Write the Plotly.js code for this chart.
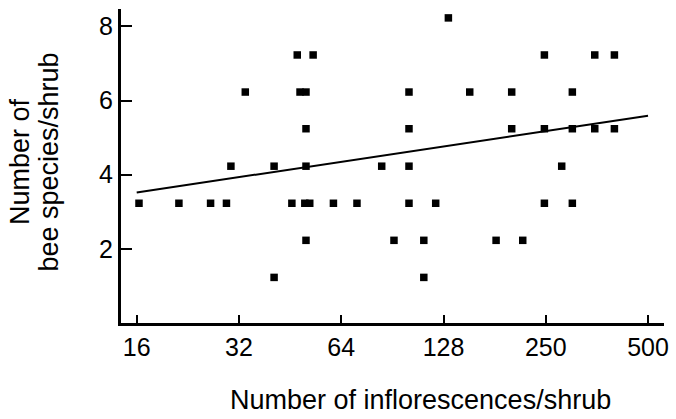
<!DOCTYPE html>
<html>
<head>
<meta charset="utf-8">
<script src="https://cdn.plot.ly/plotly-3.0.1.min.js"></script>
<style>html,body{margin:0;padding:0;background:#fff;}#chart{width:676px;height:419px;}</style>
</head>
<body>
<div id="chart"></div>
<script>
// Inflorescences per shrub (x) and bee species per shrub (y)
const inflorescences = [16.25, 21.3, 26.4, 29.4, 30.3, 33.4, 40.6, 40.6, 45.8, 47.5,
  52.9, 48.4, 50.4, 50.4, 50.4, 50.0, 51.7, 60.7, 71.2, 50.4,
  84.2, 91.5, 101.3, 101.3, 101.3, 101.3, 112, 112, 121.4, 132.3,
  152.9, 203.2, 203.2, 182.8, 219, 253.6, 253.6, 253.6, 285.2, 306.5,
  306.5, 306.5, 356.8, 356.8, 407.6, 407.6];
const beeSpecies = [3.23, 3.23, 3.23, 3.23, 4.23, 6.23, 4.23, 1.23, 3.23, 7.23,
  7.23, 6.23, 6.23, 5.24, 4.23, 3.23, 3.23, 3.23, 3.23, 2.23,
  4.23, 2.23, 6.23, 5.24, 4.23, 3.23, 2.23, 1.23, 3.23, 8.23,
  6.23, 6.23, 5.24, 2.23, 2.23, 7.23, 5.24, 3.23, 4.23, 6.23,
  5.24, 3.23, 7.23, 5.24, 7.23, 5.24];
// Fitted trend line
const trendX = [16, 512];
const trendY = [3.52, 5.59];
// Axis ticks and titles
const xTickVals = [16, 32, 64, 128, 256, 512];
const xTickText = ['16', '32', '64', '128', '250', '500'];
const yTickVals = [2, 4, 6, 8];
const xTitle = 'Number of inflorescences/shrub';
const yTitleLines = ['Number of', 'bee species/shrub'];

const font = 'Liberation Sans, Arial, sans-serif';
const titleFont = {family: font, size: 27, color: '#000'};

const traces = [
  {
    x: trendX, y: trendY, type: 'scatter', mode: 'lines',
    line: {color: '#000', width: 2}, hoverinfo: 'skip', showlegend: false
  },
  {
    x: inflorescences, y: beeSpecies, type: 'scatter', mode: 'markers',
    marker: {symbol: 'square', size: 7.5, color: '#000'}, showlegend: false
  }
];

const layout = {
  width: 676, height: 419,
  margin: {l: 121, r: 12, t: 9, b: 96, pad: 0},
  paper_bgcolor: '#fff', plot_bgcolor: '#fff',
  font: {family: font, color: '#000', size: 25},
  showlegend: false,
  xaxis: {
    type: 'log',
    range: [Math.log10(Math.pow(2, 3.8465)), Math.log10(Math.pow(2, 9.156))],
    tickvals: xTickVals, ticktext: xTickText,
    ticks: 'inside', ticklen: 8, tickwidth: 2, tickcolor: '#000',
    showline: true, linewidth: 3, linecolor: '#000',
    showgrid: false, zeroline: false,
    tickfont: {family: font, size: 25, color: '#000'}
  },
  yaxis: {
    range: [0, 8.47],
    tickvals: yTickVals,
    ticks: 'inside', ticklen: 11, tickwidth: 2, tickcolor: '#000',
    showline: true, linewidth: 3, linecolor: '#000',
    showgrid: false, zeroline: false,
    tickfont: {family: font, size: 25, color: '#000'}
  },
  annotations: [
    {text: xTitle, xref: 'paper', yref: 'paper', x: 0.5, y: 0,
     xanchor: 'center', yanchor: 'middle', xshift: 27.5, yshift: -77,
     showarrow: false, font: titleFont},
    {text: yTitleLines[0], xref: 'paper', yref: 'paper', x: 0, y: 0.5,
     xanchor: 'center', yanchor: 'middle', xshift: -101, yshift: 4, textangle: -90,
     showarrow: false, font: titleFont},
    {text: yTitleLines[1], xref: 'paper', yref: 'paper', x: 0, y: 0.5,
     xanchor: 'center', yanchor: 'middle', xshift: -72.5, yshift: 4, textangle: -90,
     showarrow: false, font: titleFont}
  ]
};

Plotly.newPlot('chart', traces, layout, {staticPlot: true, displayModeBar: false});
</script>
</body>
</html>
